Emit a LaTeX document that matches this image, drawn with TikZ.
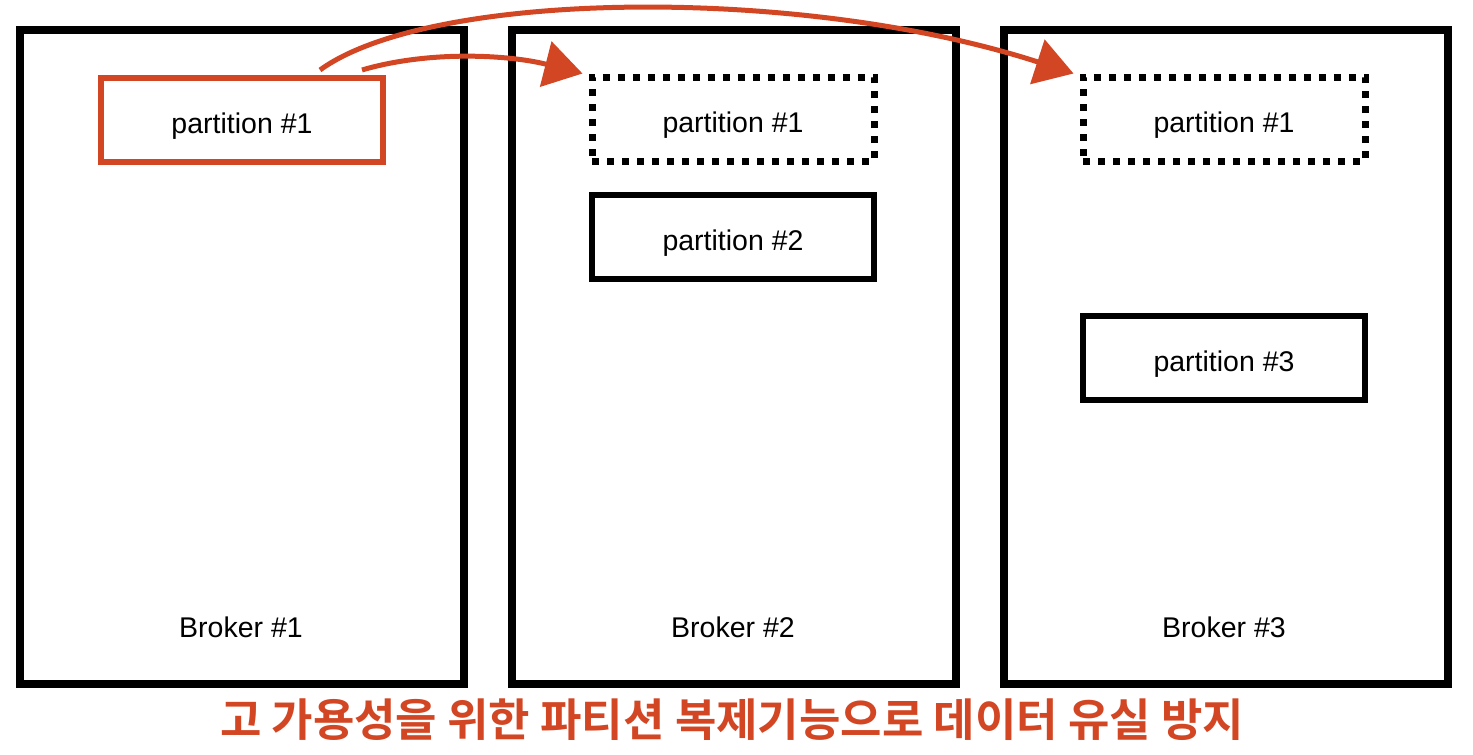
\documentclass[tikz,border=0pt]{standalone}
\usepackage{fontspec}
\setmainfont{Liberation Sans}
\newfontfamily\cjk{Noto Sans CJK KR}[BoldFont={Noto Sans CJK KR Bold}]
\usetikzlibrary{arrows.meta}
\definecolor{kred}{RGB}{210,70,35}
\tikzset{
  broker/.style={draw=black, line width=8pt, minimum width=444pt, minimum height=654pt, inner sep=0pt},
  part/.style={draw=black, line width=6pt, minimum width=282pt, minimum height=84pt, inner sep=0pt, text height=26pt, text depth=0pt, font=\fontsize{28.5}{32}\selectfont},
  leader/.style={part, draw=kred},
  replica/.style={part, line width=7pt, dash pattern=on 7pt off 8pt},
  blabel/.style={font=\fontsize{28.5}{32}\selectfont, inner sep=0pt},
  repl/.style={draw=kred, line width=5pt, -{Triangle[length=38pt,width=46pt]}}
}
\begin{document}
\begin{tikzpicture}[x=1pt,y=-1pt]
\useasboundingbox (0,0) rectangle (1473,755);
\node[broker] (b1) at (242,357) {};
\node[broker] (b2) at (734,357) {};
\node[broker] (b3) at (1226,357) {};
\node[blabel] (l1) at (241,627) {Broker \#1};
\node[blabel] (l2) at (733,627) {Broker \#2};
\node[blabel] (l3) at (1224,627) {Broker \#3};
\node[leader] (p11) at (242,120) {partition \#1};
\node[replica] (p12) at (733,119) {partition \#1};
\node[part] (p22) at (733,237) {partition \#2};
\node[replica] (p13) at (1224,119) {partition \#1};
\node[part] (p33) at (1224,358) {partition \#3};
\coordinate (s1) at (362,70);
\coordinate (s2) at (320,70);
\draw[repl] (s1) .. controls (430,50) and (510,55) .. ([xshift=-6pt]p12.north west);
\draw[repl] (s2) .. controls (430,-10) and (800,-15) .. ([xshift=-6pt]p13.north west);
\node[text=kred, inner sep=0pt] (title) at (732,720) {\cjk\bfseries\fontsize{45}{50}\selectfont 고 가용성을 위한 파티션 복제기능으로 데이터 유실 방지};
\end{tikzpicture}
\end{document}
